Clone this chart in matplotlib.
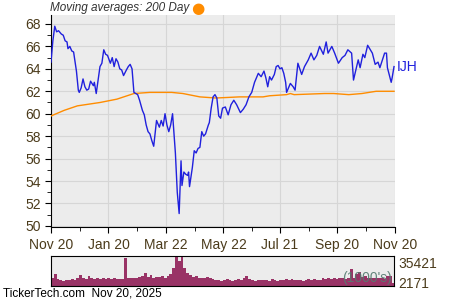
import datetime as dt
import numpy as np
import matplotlib.pyplot as plt
import matplotlib.dates as mdates

plt.rcParams['font.family'] = ['Liberation Sans', 'DejaVu Sans']

start = dt.date(2024, 11, 20)

# price closes: day offset from Nov 20 2024, value
price_days = [0, 2, 4, 6, 8, 11, 13, 15, 17, 18, 20, 22, 24, 27, 29, 30, 32, 34, 36, 38,
              40, 42, 45, 46, 48, 50, 52, 54, 56, 58, 60, 63, 65, 67, 69, 71, 73, 75, 77, 80,
              82, 84, 86, 88, 90, 92, 94, 97, 99, 101, 103, 105, 107, 109, 111, 112, 115, 117, 119, 121,
              123, 125, 127, 129, 132, 134, 136, 138, 139, 141, 143, 145, 146, 147, 150, 152, 154, 156, 158, 160,
              162, 164, 167, 168, 170, 172, 174, 176, 178, 180, 182, 185, 188, 191, 194, 197, 201, 204, 207, 210,
              213, 216, 220, 223, 226, 228, 230, 232, 234, 237, 239, 241, 243, 245, 247, 249, 250, 254, 257, 259,
              262, 266, 269, 273, 276, 279, 282, 285, 289, 292, 294, 298, 301, 305, 309, 312, 315, 319, 321, 326,
              328, 331, 333, 336, 341, 344, 347, 349, 354, 356, 357, 361, 362, 364]
price_vals = [64.6, 66.5, 67.8, 67.3, 67.4, 67.1, 67.0, 66.5, 66.4, 65.8, 66.0, 65.6, 65.5, 63.8, 62.1, 61.9, 62.3, 63.1, 62.4, 62.1,
              62.2, 62.9, 62.5, 62.8, 61.8, 63.0, 64.2, 64.5, 65.7, 65.3, 65.2, 64.5, 65.0, 64.2, 64.9, 64.6, 64.0, 63.9, 63.4, 63.9,
              64.2, 64.4, 64.0, 61.9, 61.8, 61.7, 61.2, 60.3, 59.9, 59.0, 58.4, 58.2, 57.6, 57.1, 58.6, 59.4, 58.8, 59.4, 58.9, 60.0,
              59.0, 58.4, 59.0, 60.0, 56.5, 53.0, 51.1, 55.8, 53.6, 54.8, 54.6, 54.5, 54.8, 53.5, 55.2, 56.7, 56.5, 56.9, 57.0, 58.4,
              58.0, 58.2, 59.0, 59.2, 60.5, 61.5, 61.7, 61.4, 59.8, 59.6, 60.5, 60.6, 59.9, 60.8, 61.2, 60.8, 60.1, 60.4, 60.8, 61.5,
              61.9, 62.8, 63.6, 63.3, 63.8, 63.2, 62.4, 63.3, 63.0, 63.5, 64.2, 64.3, 64.0, 64.1, 63.6, 62.8, 61.9, 62.7, 62.4, 62.1,
              64.5, 63.5, 64.2, 64.8, 65.4, 64.8, 65.2, 66.0, 65.3, 66.4, 65.4, 66.0, 65.4, 64.5, 65.0, 65.2, 65.7, 65.4, 63.0, 64.8,
              64.1, 65.3, 65.0, 66.1, 65.4, 64.4, 64.6, 64.1, 65.4, 65.4, 64.1, 62.8, 63.2, 64.2]

# 200 day moving average
ma_days = [0, 14, 28, 52, 70, 88, 105, 128, 140, 158, 175, 200, 225, 232, 250, 254, 258, 290, 300, 316, 330, 345, 364]
ma_vals = [59.8, 60.3, 60.7, 61.0, 61.3, 61.8, 61.9, 61.9, 61.8, 61.5, 61.4, 61.5, 61.5, 61.6, 61.7, 61.8, 61.7, 61.8,
           61.8, 61.7, 61.8, 62.0, 62.0]

# volume in 1000's, one value per 3 days
volume = [9000, 14000, 8000, 7000, 6500, 7500, 7000, 8000, 7500, 9000,
          13000, 9000, 8500, 12500, 9000, 8000, 9500, 8500, 9000, 8500,
          9000, 8000, 9500, 8000, 8500, 8000, 33000, 9000, 9500, 9000,
          10000, 11000, 12000, 15000, 11000, 13000, 10000, 10500, 11000, 12000,
          10000, 12500, 14000, 22000, 36000, 30000, 36000, 22000, 16000, 13000,
          11000, 12000, 10000, 9500, 9000, 11000, 9000, 8500, 7000, 7500,
          6500, 7000, 8000, 7000, 6500, 7000, 8000, 7500, 9000, 12000,
          8000, 7000, 6500, 7500, 7000, 7500, 7000, 6500, 8000, 7000,
          6500, 7500, 7000, 8500, 7000, 8000, 7000, 7500, 7000, 6500,
          7000, 8000, 7500, 8000, 7000, 7500, 9000, 8000, 9500, 8000,
          9000, 8500, 9000, 9500, 8500, 10000, 20000, 9000, 14000, 17000,
          11000, 12000, 9000, 10000, 9500, 10000, 9000, 9500, 8500, 12000,
          12000, 3000]

text_col = '#4b3b1b'
bg = '#ececec'

pdates = [start + dt.timedelta(days=d) for d in price_days]
mdts = [start + dt.timedelta(days=d) for d in ma_days]
vdates = [start + dt.timedelta(days=3 * i) for i in range(len(volume))]

fig = plt.figure(figsize=(4.5, 3.0), dpi=100)
ax = fig.add_axes([0.1133, 0.2433, 0.7644, 0.7067])
ax.set_facecolor(bg)
ax.plot(mdts, ma_vals, color='#ff8c00', lw=1.0, zorder=3)
ax.plot(pdates, price_vals, color='#2020dd', lw=1.0, zorder=4)

x0 = mdates.date2num(start)
x1 = mdates.date2num(dt.date(2025, 11, 20))
ax.set_xlim(x0, x1)
ax.set_ylim(49.9, 68.8)
ax.set_yticks(np.arange(50, 69, 2))
ax.set_yticks(np.arange(51, 69, 2), minor=True)
tick_dates = [dt.date(2024, 11, 20), dt.date(2025, 1, 20), dt.date(2025, 3, 22), dt.date(2025, 5, 22),
              dt.date(2025, 7, 21), dt.date(2025, 9, 20), dt.date(2025, 11, 20)]
tick_labels = ['Nov 20', 'Jan 20', 'Mar 22', 'May 22', 'Jul 21', 'Sep 20', 'Nov 20']
tnums = mdates.date2num(tick_dates)
ax.set_xticks(tnums)
ax.set_xticklabels(tick_labels)
ax.set_xticks((tnums[:-1] + tnums[1:]) / 2, minor=True)
ax.grid(True, which='major', color='#d6d6d6', lw=0.8)
ax.set_axisbelow(True)
for s in ['top', 'right']:
    ax.spines[s].set_visible(False)
ax.tick_params(axis='both', which='both', direction='out', color='black', labelcolor=text_col, labelsize=10)
ax.tick_params(axis='both', which='major', length=4)
ax.tick_params(axis='both', which='minor', length=3)
ax.tick_params(axis='x', pad=4)

fig.text(0.111, 0.972, 'Moving averages: 200 Day', style='italic', fontsize=8.5, color='#333333', va='center')
fig.text(0.424, 0.972, '\u25cf', fontsize=11, color='#ff8c00', va='center', family='DejaVu Sans')
ax.text(1.005, 0.755, 'IJH', transform=ax.transAxes, color='#2020dd', fontsize=10, va='center')

vax = fig.add_axes([0.1133, 0.0467, 0.762, 0.1])
vax.set_facecolor(bg)
vax.bar(vdates, volume, width=3.0, color='#993366', align='edge')
vax.set_xlim(x0, x1)
vax.set_ylim(0, 36000)
vax.set_xticks([])
vax.yaxis.tick_right()
vax.set_yticks([4700, 28500])
vax.set_yticklabels(['2171', '35421'])
vax.tick_params(axis='y', length=0, labelcolor=text_col, labelsize=10, pad=3)
for s in vax.spines.values():
    s.set_color('black')
vax.text(0.995, 0.03, "(1000's)", transform=vax.transAxes, ha='right', va='bottom',
         color='#557a70', fontsize=10, alpha=0.9, zorder=5)

fig.text(0.007, 0.022, 'TickerTech.com  Nov 20, 2025', fontsize=8.5, color='black', va='center')

fig.savefig('out.png', dpi=100)
